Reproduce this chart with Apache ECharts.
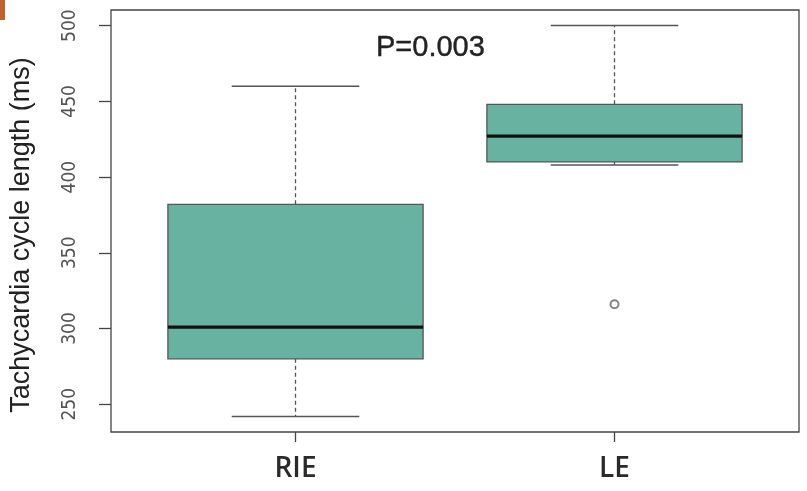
<!DOCTYPE html>
<html>
<head>
<meta charset="utf-8">
<script src="https://cdn.jsdelivr.net/npm/echarts@6/dist/echarts.min.js"></script>
<style>html,body{margin:0;padding:0;background:#fff;}#c{width:807px;height:491px;}</style>
</head>
<body>
<div id="c"></div>
<script>
const categories = ['RIE', 'LE'];
const lowWhisker = [242, 408];
const q1 = [280, 410];
const median = [301, 427];
const q3 = [382, 448];
const highWhisker = [460, 500];
const outliers = [[1, 316]];
const yTicks = [250, 300, 350, 400, 450, 500];
const yMin = 231.7, yMax = 510.3;
const pLabel = 'P=0.003';
const yTitle = 'Tachycardia cycle length (ms)';

const boxData = categories.map((c, i) => [i, lowWhisker[i], q1[i], median[i], q3[i], highWhisker[i]]);
const lineCol = '#555';

const chart = echarts.init(document.getElementById('c'), null, {renderer: 'canvas'});
chart.setOption({
  animation: false,
  backgroundColor: '#fff',
  title: {
    text: pLabel, left: 371, top: 28,
    textStyle: {fontFamily: 'Liberation Sans', fontSize: 29, fontWeight: 'normal', color: '#222', textBorderColor: '#222', textBorderWidth: 0.4}
  },
  graphic: [{type: 'rect', shape: {x: 0, y: 0, width: 5, height: 20}, style: {fill: '#c0622b'}}],
  grid: [
    {left: 136, right: 33, top: 10, bottom: 59, show: false},
    {left: 109, right: 8, top: 10, bottom: 59, show: true, borderColor: '#444', borderWidth: 1.3, backgroundColor: 'transparent'}
  ],
  xAxis: [
    {type: 'category', gridIndex: 0, data: categories, boundaryGap: true,
     axisLine: {show: false},
     axisTick: {show: true, alignWithLabel: true, length: 10, lineStyle: {color: '#444', width: 1.3}},
     axisLabel: {margin: 23, fontFamily: 'Open Sans', fontWeight: 600, fontSize: 28, color: '#2a2a2a'},
     splitLine: {show: false}},
    {type: 'value', gridIndex: 1, min: 0, max: 1, show: false}
  ],
  yAxis: [
    {type: 'value', gridIndex: 0, min: yMin, max: yMax, show: false},
    {type: 'value', gridIndex: 1, min: yMin, max: yMax,
     name: yTitle, nameLocation: 'middle', nameRotate: 90, nameGap: 76,
     nameTextStyle: {fontFamily: 'Liberation Sans', fontSize: 27, color: '#222', padding: [0, 28, 0, 0]},
     axisLine: {show: false},
     axisTick: {show: true, length: 12, customValues: yTicks, lineStyle: {color: '#444', width: 1.3}},
     axisLabel: {rotate: 90, margin: 31, customValues: yTicks, fontFamily: "'DejaVu Sans Condensed', 'Liberation Sans', sans-serif", fontSize: 19, color: '#555'},
     splitLine: {show: false}}
  ],
  series: [
    {
      type: 'custom', xAxisIndex: 0, yAxisIndex: 0, data: boxData,
      renderItem: function (params, api) {
        const x = api.value(0);
        const band = api.size([1, 0])[0];
        const half = band * 0.4, cap = band * 0.2;
        const pLow = api.coord([x, api.value(1)]);
        const pQ1 = api.coord([x, api.value(2)]);
        const pMed = api.coord([x, api.value(3)]);
        const pQ3 = api.coord([x, api.value(4)]);
        const pHigh = api.coord([x, api.value(5)]);
        const cx = pMed[0];
        return {type: 'group', children: [
          {type: 'line', shape: {x1: cx, y1: pQ3[1], x2: cx, y2: pHigh[1]}, style: {stroke: lineCol, lineWidth: 1.3, lineDash: [4, 3]}},
          {type: 'line', shape: {x1: cx, y1: pQ1[1], x2: cx, y2: pLow[1]}, style: {stroke: lineCol, lineWidth: 1.3, lineDash: [4, 3]}},
          {type: 'line', shape: {x1: cx - cap, y1: pHigh[1], x2: cx + cap, y2: pHigh[1]}, style: {stroke: lineCol, lineWidth: 1.5}},
          {type: 'line', shape: {x1: cx - cap, y1: pLow[1], x2: cx + cap, y2: pLow[1]}, style: {stroke: lineCol, lineWidth: 1.5}},
          {type: 'rect', shape: {x: cx - half, y: pQ3[1], width: half * 2, height: pQ1[1] - pQ3[1]}, style: {fill: '#67b2a1', stroke: lineCol, lineWidth: 1.3}},
          {type: 'line', shape: {x1: cx - half, y1: pMed[1], x2: cx + half, y2: pMed[1]}, style: {stroke: '#111', lineWidth: 3.2}}
        ]};
      }
    },
    {
      type: 'scatter', xAxisIndex: 0, yAxisIndex: 0, data: outliers,
      symbol: 'emptyCircle', symbolSize: 8,
      itemStyle: {color: '#666', borderColor: '#666', borderWidth: 1.5}
    }
  ]
});
</script>
</body>
</html>
